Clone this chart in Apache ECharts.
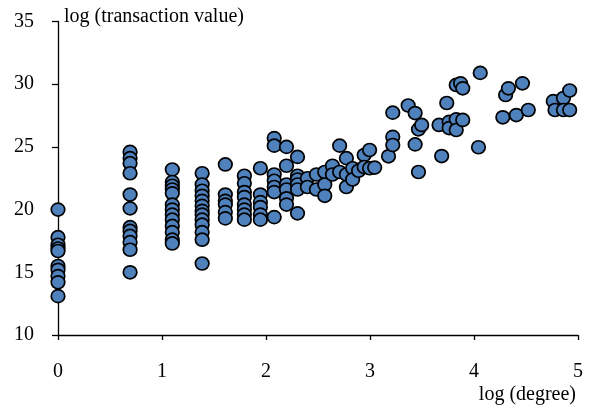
<!DOCTYPE html>
<html>
<head>
<meta charset="utf-8">
<script src="https://cdn.jsdelivr.net/npm/echarts@6/dist/echarts.min.js"></script>
<style>html,body{margin:0;padding:0;background:#fff}#c{width:593px;height:409px}</style>
</head>
<body>
<div id="c"></div>
<script>
// x values: log(degree); y values: log(transaction value)
const degreeLog = [
  0,0,0,0,0,0,0,0,0,0,
  0.693,0.693,0.693,0.693,0.693,0.693,0.693,0.693,0.693,0.693,0.693,0.693,
  1.099,1.099,1.099,1.099,1.099,1.099,1.099,1.099,1.099,1.099,1.099,1.099,1.099,
  1.386,1.386,1.386,1.386,1.386,1.386,1.386,1.386,1.386,1.386,1.386,1.386,1.386,
  1.609,1.609,1.609,1.609,1.609,1.609,
  1.792,1.792,1.792,1.792,1.792,1.792,1.792,1.792,
  1.946,1.946,1.946,1.946,1.946,1.946,
  2.079,2.079,2.079,2.079,2.079,2.079,2.079,
  2.197,2.197,2.197,2.197,2.197,2.197,
  2.303,2.303,2.303,2.303,2.303,2.303,
  2.398,2.398,2.485,2.485,2.565,2.565,2.565,2.639,2.639,
  2.708,2.708,2.773,2.773,2.773,2.833,2.833,2.890,2.944,2.944,2.996,2.996,3.045,
  3.178,3.219,3.219,3.219,3.367,3.434,3.434,3.466,3.466,3.497,
  3.664,3.689,3.738,3.761,3.761,3.829,3.829,3.829,3.871,3.892,3.892,
  4.043,4.060,4.277,4.304,4.331,4.407,4.466,4.522,
  4.762,4.779,4.860,4.860,4.920,4.920
];
const valueLog = [
  20.0,17.8,17.2,16.9,16.7,15.5,15.2,14.7,14.2,13.1,
  24.6,24.1,23.7,22.9,21.2,20.1,18.6,18.3,17.9,17.4,16.8,15.0,
  23.2,22.2,21.9,21.6,21.3,20.4,20.0,19.6,19.2,18.7,18.2,17.6,17.3,
  22.9,22.0,21.5,21.1,20.7,20.3,19.9,19.6,19.2,18.8,18.2,17.6,15.7,
  23.6,21.2,20.7,20.4,19.8,19.3,
  22.7,22.1,21.4,21.0,20.4,20.0,19.6,19.2,
  23.3,21.2,20.6,20.2,19.6,19.2,
  25.7,25.1,22.8,22.3,21.8,21.4,19.4,
  25.0,23.5,22.0,21.6,20.9,20.4,
  24.2,22.7,22.4,22.0,21.6,19.7,
  22.5,21.8,22.8,21.6,23.0,22.0,21.1,23.5,22.8,
  25.1,23.0,24.1,22.8,21.8,23.3,22.4,23.1,24.35,23.4,24.75,23.3,23.35,
  24.25,27.73,25.8,25.15,28.3,27.7,25.2,26.4,23.0,26.75,
  26.75,24.27,28.5,27.0,26.5,27.2,26.35,29.94,30.07,29.67,27.15,
  24.97,30.9,27.36,29.14,29.67,27.54,30.07,27.94,
  28.65,27.94,28.9,27.94,29.5,27.94
];
const xTicks = [0,1,2,3,4,5];
const yTicks = [10,15,20,25,30,35];

const points = degreeLog.map((x, i) => [x, valueLog[i]]);
const font = "'Liberation Serif', 'Times New Roman', serif";

const chart = echarts.init(document.getElementById('c'), null, {renderer: 'canvas'});
chart.setOption({
  animation: false,
  backgroundColor: '#fff',
  grid: {left: 58, right: 15, top: 21.5, bottom: 74, containLabel: false},
  xAxis: {
    type: 'value', min: xTicks[0], max: xTicks[xTicks.length - 1], interval: 1,
    name: 'log (degree)', nameLocation: 'end', nameGap: -2,
    nameTextStyle: {fontFamily: font, fontSize: 20, color: '#000', align: 'right', verticalAlign: 'top', padding: [50, 0, 0, 0]},
    axisLine: {lineStyle: {color: '#000', width: 1.3}},
    axisTick: {show: true, inside: false, length: 5, lineStyle: {color: '#000', width: 1.3}},
    axisLabel: {fontFamily: font, fontSize: 20, color: '#000', margin: 27},
    splitLine: {show: false}
  },
  yAxis: {
    type: 'value', min: yTicks[0], max: yTicks[yTicks.length - 1], interval: 5,
    name: 'log (transaction value)', nameLocation: 'end', nameGap: 5,
    nameTextStyle: {fontFamily: font, fontSize: 20, color: '#000', align: 'left', verticalAlign: 'middle', padding: [0, 0, 0, 6]},
    axisLine: {show: true, lineStyle: {color: '#000', width: 1.3}},
    axisTick: {show: true, inside: false, length: 6, lineStyle: {color: '#000', width: 1.3}},
    axisLabel: {fontFamily: font, fontSize: 20, color: '#000', margin: 24},
    splitLine: {show: false}
  },
  series: [{
    type: 'scatter',
    data: points,
    symbol: 'circle',
    symbolSize: [13.5, 13],
    itemStyle: {color: '#4F81BD', borderColor: '#000', borderWidth: 1.7, opacity: 1}
  }]
});
</script>
</body>
</html>
